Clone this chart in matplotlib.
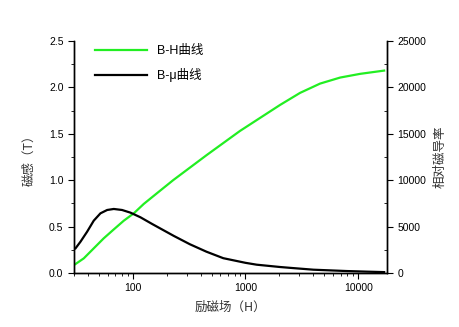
import matplotlib
matplotlib.use('Agg')
import matplotlib.pyplot as plt
from matplotlib.ticker import MultipleLocator, FuncFormatter, LogLocator, NullFormatter

plt.rcParams['font.family'] = ['Liberation Sans', 'Noto Sans CJK SC', 'DejaVu Sans']
plt.rcParams['font.size'] = 9

# B-H 曲线 (左轴, T)
h_bh = [31, 36.7, 45, 55.2, 67.8, 83.2, 102, 125, 164, 228, 452, 893, 1345,
        2026, 3050, 4590, 6920, 10420, 17000]
b_val = [0.097, 0.158, 0.266, 0.374, 0.47, 0.564, 0.643, 0.744, 0.86, 1.0,
         1.27, 1.53, 1.67, 1.81, 1.94, 2.04, 2.105, 2.145, 2.18]

# B-μ 曲线 (右轴, 相对磁导率)
h_mu = [31, 34.3, 39.3, 45, 51.6, 59.2, 67.8, 80.3, 95.4, 117, 148.6, 231,
        321, 450, 635, 1000, 1256, 2026, 2490, 4010, 7940, 12000, 17000]
mu_val = [2660, 3370, 4450, 5640, 6430, 6790, 6900, 6790, 6500, 6000, 5280,
          4000, 3100, 2300, 1600, 1100, 900, 650, 560, 360, 215, 150, 100]

fig = plt.figure(figsize=(4.59, 3.27), dpi=100)
ax = fig.add_axes([0.161, 0.165, 0.682, 0.71])
ax2 = ax.twinx()

l1, = ax.plot(h_bh, b_val, color='#22ee22', lw=1.6, label='B-H曲线')
l2, = ax2.plot(h_mu, mu_val, color='black', lw=1.6, label='B-μ曲线')

ax.set_xscale('log')
ax.set_xlim(30, 18000)
ax.set_ylim(0, 2.5)
ax2.set_ylim(0, 25000)

ax.xaxis.set_major_locator(LogLocator(base=10))
ax.xaxis.set_major_formatter(FuncFormatter(lambda v, p: f'{int(round(v))}'))
ax.xaxis.set_minor_locator(LogLocator(base=10, subs=range(2, 10)))
ax.xaxis.set_minor_formatter(NullFormatter())
ax.yaxis.set_major_locator(MultipleLocator(0.5))
ax.yaxis.set_minor_locator(MultipleLocator(0.25))
ax.yaxis.set_major_formatter(FuncFormatter(lambda v, p: f'{v:.1f}'))
ax2.yaxis.set_major_locator(MultipleLocator(5000))
ax2.yaxis.set_minor_locator(MultipleLocator(2500))

for a in (ax, ax2):
    a.spines['top'].set_visible(False)
    for s in a.spines.values():
        s.set_linewidth(1.0)
ax.tick_params(which='major', direction='out', length=4, labelsize=7.5)
ax.tick_params(which='minor', direction='out', length=2.5)
ax2.tick_params(which='major', direction='out', length=4, labelsize=7.5)
ax2.tick_params(which='minor', direction='in', length=2.5)

cjk = ['Noto Sans CJK SC', 'DejaVu Sans']
ax.set_xlabel('励磁场（H）', family=cjk, fontsize=9, color='#333333', labelpad=5)
ax.set_ylabel('磁感（T）', family=cjk, fontsize=9, color='#333333', labelpad=10)
ax2.set_ylabel('相对磁导率', family=cjk, fontsize=9, color='#333333', labelpad=5)

ax.legend(handles=[l1, l2], loc='upper left', frameon=False,
          bbox_to_anchor=(0.03, 1.03), handlelength=4.2, labelspacing=0.9,
          fontsize=9)

fig.savefig('out.png', dpi=100)
